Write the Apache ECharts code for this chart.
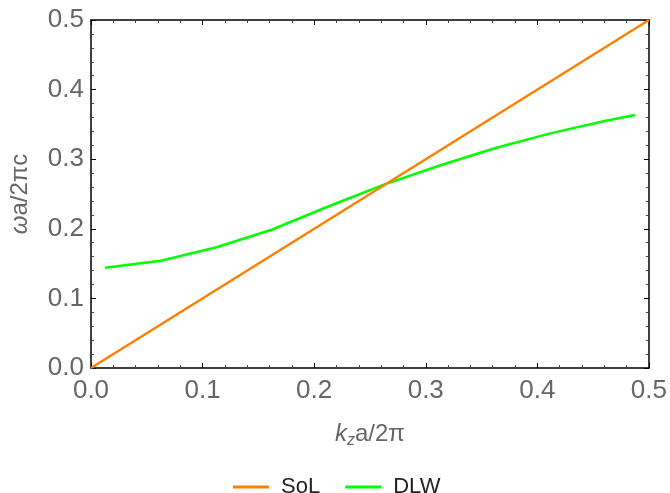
<!DOCTYPE html>
<html><head><meta charset="utf-8">
<script src="https://cdn.jsdelivr.net/npm/echarts@6/dist/echarts.min.js"></script>
<style>html,body{margin:0;padding:0;background:#fff}#c{width:670px;height:493px}</style>
</head><body><div id="c"></div>
<script>
const solK = [0, 0.5];
const solW = [0, 0.5];
const dlwK = [0.0125, 0.0625, 0.1125, 0.1625, 0.2125, 0.2625, 0.3125, 0.3625, 0.4125, 0.4625, 0.4875];
const dlwW = [0.144, 0.154, 0.1735, 0.199, 0.232, 0.2635, 0.291, 0.316, 0.3375, 0.3555, 0.3635];
const xTicks = [0, 0.1, 0.2, 0.3, 0.4, 0.5];
const yTicks = [0, 0.1, 0.2, 0.3, 0.4, 0.5];
const seriesNames = ['SoL', 'DLW'];

const font = 'Liberation Sans, Arial, sans-serif';
const gray = '#666666';
const chart = echarts.init(document.getElementById('c'));
const tickCommon = {
  axisLine: {show: true, onZero: false, lineStyle: {color: '#000', width: 1.5}},
  axisTick: {show: true, inside: true, length: 5, lineStyle: {color: '#000', width: 1}},
  minorTick: {show: true, splitNumber: 5, length: 3, lineStyle: {color: '#444', width: 1}},
  splitLine: {show: false}
};
const xBase = {type: 'value', min: xTicks[0], max: xTicks[xTicks.length-1], interval: 0.1};
const yBase = {type: 'value', min: yTicks[0], max: yTicks[yTicks.length-1], interval: 0.1};
chart.setOption({
  animation: false,
  backgroundColor: '#fff',
  grid: {left: 87, right: 19, top: 20, bottom: 125, containLabel: false},
  legend: {
    data: seriesNames,
    left: 228, top: 471,
    icon: 'rect', itemWidth: 36, itemHeight: 3, itemGap: 25,
    textStyle: {fontFamily: font, fontSize: 22, color: '#222', padding: [0, 0, 0, 7]}
  },
  xAxis: [
    Object.assign({}, xBase, tickCommon, {
      position: 'bottom',
      name: '{i|k}{s|z}{n|a/2π}',
      nameLocation: 'middle', nameGap: 51,
      nameTextStyle: {
        rich: {
          i: {fontFamily: font, fontSize: 24, fontStyle: 'italic', color: gray},
          s: {fontFamily: font, fontSize: 16, fontStyle: 'italic', color: gray, padding: [14, 0, 0, 0]},
          n: {fontFamily: font, fontSize: 24, color: gray}
        }
      },
      axisLabel: {fontFamily: font, fontSize: 26, color: gray, margin: 10,
        formatter: v => v.toFixed(1)}
    }),
    Object.assign({}, xBase, tickCommon, {position: 'top', axisLabel: {show: false}})
  ],
  yAxis: [
    Object.assign({}, yBase, tickCommon, {
      position: 'left',
      name: '{i|ω}{n|a/2πc}',
      nameLocation: 'middle', nameGap: 59, nameRotate: 90,
      nameTextStyle: {
        rich: {
          i: {fontFamily: font, fontSize: 24, fontStyle: 'italic', color: gray},
          n: {fontFamily: font, fontSize: 24, color: gray}
        }
      },
      axisLabel: {fontFamily: font, fontSize: 26, color: gray, margin: 7,
        formatter: v => v.toFixed(1)}
    }),
    Object.assign({}, yBase, tickCommon, {position: 'right', axisLabel: {show: false}})
  ],
  series: [
    {name: seriesNames[0], type: 'line', data: solK.map((k, i) => [k, solW[i]]),
      showSymbol: false, symbol: 'none', lineStyle: {color: '#FF8000', width: 2.5}, itemStyle: {color: '#FF8000'}, z: 3},
    {name: seriesNames[1], type: 'line', data: dlwK.map((k, i) => [k, dlwW[i]]),
      showSymbol: false, symbol: 'none', lineStyle: {color: '#00FF00', width: 2.5}, itemStyle: {color: '#00FF00'}, z: 2}
  ]
});
</script></body></html>
